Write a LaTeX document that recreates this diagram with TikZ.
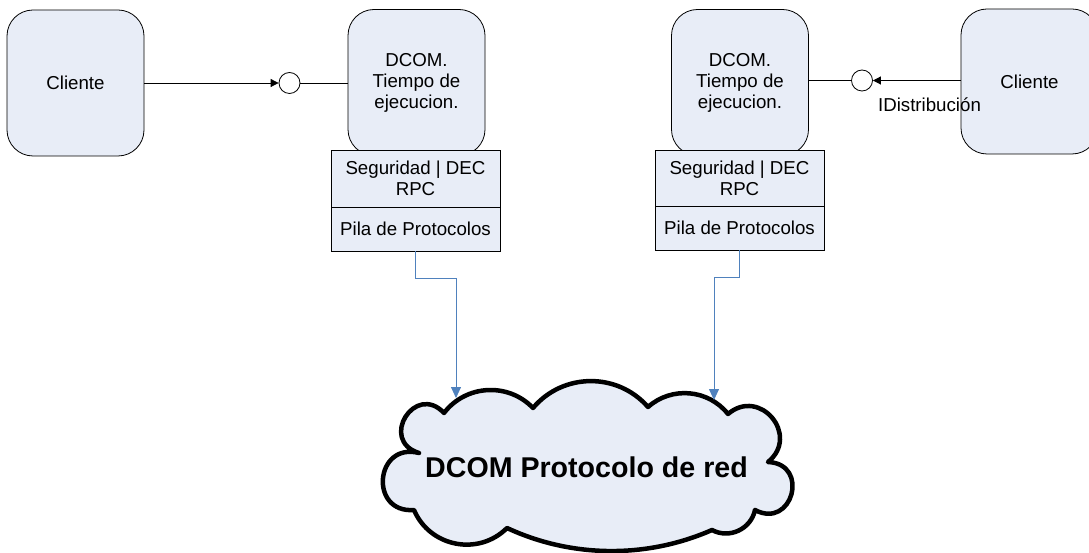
\documentclass[tikz,border=0pt]{standalone}
\usepackage{fontspec}
\setmainfont{Liberation Sans}
\usetikzlibrary{arrows.meta}
\definecolor{boxfill}{RGB}{232,237,247}
\definecolor{connblue}{RGB}{79,129,189}
\begin{document}
\begin{tikzpicture}[x=1pt,y=1pt,
  txt/.style={font=\fontsize{18.7}{21}\selectfont},
  rbox/.style={txt, draw=black, fill=boxfill, rounded corners=26pt, line width=0.8pt, minimum width=137pt, inner sep=0pt, align=center},
  sbox/.style={txt, draw=black, fill=boxfill, line width=0.8pt, minimum width=169pt, inner sep=0pt, align=center},
  port/.style={circle, draw=black, fill=white, minimum size=21pt, inner sep=0pt, line width=0.8pt},
  blk/.style={-{Triangle[length=8pt,width=8pt]}, line width=0.8pt},
  bluec/.style={draw=connblue, line width=0.8pt, -{Triangle[length=11pt,width=10pt]}},
  cloudline/.style={fill=boxfill, draw=black, line width=4.5pt, line join=round},
]
\clip (0,0) rectangle (1089,552);
\fill[white] (0,0) rectangle (1089,552);

% left side
\node[rbox, minimum height=146pt] (cl1) at (75.5,469) {Cliente};
\node[rbox, minimum height=146pt] (dc1) at (416.5,469.5) {DCOM.\\Tiempo de\\ejecucion.};
\node[sbox, minimum height=57pt] (up1) at (415.5,373.5) {Seguridad | DEC\\RPC};
\node[sbox, minimum height=44pt] (lo1) at (415.5,323) {Pila de Protocolos};
\node[port] (p1) at (289.5,469) {};
\draw[blk] (cl1.east) -- (p1.west);
\draw[line width=0.8pt] (p1.east) -- (p1.east -| dc1.west);

% right side
\node[rbox, minimum height=146pt] (dc2) at (740,469.5) {DCOM.\\Tiempo de\\ejecucion.};
\node[sbox, minimum height=56pt] (up2) at (739.5,374) {Seguridad | DEC\\RPC};
\node[sbox, minimum height=44pt] (lo2) at (739.5,324) {Pila de Protocolos};
\node[rbox, minimum height=145pt] (cl2) at (1029.5,470.5) {Cliente};
\node[port] (p2) at (862,471.5) {};
\draw[line width=0.8pt] (p2.west -| dc2.east) -- (p2.west);
\draw[blk] (p2.east -| cl2.west) -- (p2.east);
\node[txt, inner sep=0pt] (lab) at (929.5,447) {IDistribución};

% cloud
\filldraw[cloudline] (444,139)
  to[out=52.6,in=133.8,looseness=1.03] (533,144)
  to[out=49.9,in=131.1,looseness=1.03] (648,145)
  to[out=41.6,in=128.4,looseness=1.01] (728,138)
  to[out=40.5,in=39.1,looseness=1.72] (768,90)
  to[out=-2.4,in=-28,looseness=2.19] (755,42)
  to[out=258,in=331.8,looseness=1.06] (712,22)
  to[out=203.7,in=335.1,looseness=0.89] (507,24)
  to[out=224.9,in=293.1,looseness=1.09] (414,42)
  to[out=184.4,in=165.6,looseness=2.04] (419,99)
  to[out=162.9,in=133.1,looseness=2.29] (444,139) -- cycle;
\node[font=\bfseries\fontsize{28.6}{32}\selectfont, inner sep=0pt] (net) at (586.5,85) {DCOM Protocolo de red};
\coordinate (t1) at (456,154);
\coordinate (t2) at (714,152);
\draw[bluec] (lo1.south) -- ++(0,-27) -| (t1);
\draw[bluec] (lo2.south) -- ++(0,-27) -| (t2);
\end{tikzpicture}
\end{document}
